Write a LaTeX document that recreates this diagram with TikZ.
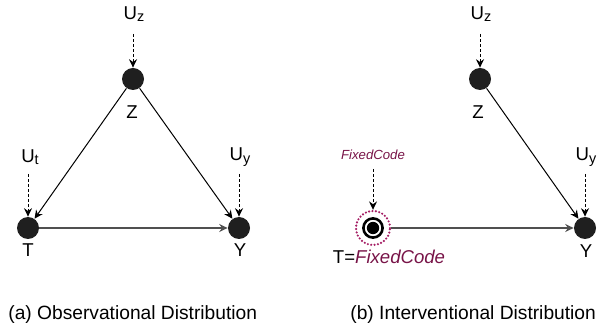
\documentclass[tikz,border=0pt]{standalone}
\usepackage{fontspec}
\setmainfont{Liberation Sans}
\usetikzlibrary{arrows.meta}
\definecolor{fc}{RGB}{120,20,72}
\definecolor{fcdot}{RGB}{165,30,100}
\definecolor{edgegray}{RGB}{80,80,80}
\newcommand\usub[1]{U{\fontsize{7.2}{8}\selectfont\raisebox{-1.3pt}{#1}}}
\begin{document}
\begin{tikzpicture}[x=0.5pt,y=-0.5pt,
  blackdot/.style={circle,fill=black!88,minimum size=11pt,inner sep=0pt},
  lbl/.style={font=\fontsize{9.3}{10}\selectfont,inner sep=0pt},
  captext/.style={font=\fontsize{9.6}{11}\selectfont,inner sep=0pt,anchor=west},
  arrtip/.style={-{Stealth[length=4.2pt,width=4pt,inset=1.4pt]}},
  dasharrow/.style={arrtip,dash pattern=on 1.5pt off 1pt,line width=0.5pt},
  solidedge/.style={arrtip,line width=0.5pt},
  grayedge/.style={arrtip,line width=0.9pt,draw=edgegray},
]
\useasboundingbox (0,0) rectangle (608,330);
% ---------- left panel ----------
\node[lbl] (uz1) at (134,14) {\usub{z}};
\node[blackdot] (z1) at (133,79) {};
\node[lbl] (zl1) at (132,112) {Z};
\node[lbl] (ut1) at (30,157) {\usub{t}};
\node[blackdot] (t1) at (28,228) {};
\node[lbl] (tl1) at (28,250) {T};
\node[lbl] (uy1) at (240,157) {\usub{y}};
\node[blackdot] (y1) at (239,228) {};
\node[lbl] (yl1) at (240,250) {Y};
\draw[dasharrow,shorten <=10pt] (z1 |- uz1.center) -- (z1);
\draw[dasharrow,shorten <=8.5pt] (t1 |- ut1.center) -- (t1);
\draw[dasharrow,shorten <=8.5pt] (y1 |- uy1.center) -- (y1);
\draw[solidedge] (z1) -- (t1);
\draw[solidedge] (z1) -- (y1);
\draw[grayedge] (t1) -- (y1);
% ---------- right panel ----------
\node[lbl] (uz2) at (481,14) {\usub{z}};
\node[blackdot] (z2) at (480,79) {};
\node[lbl] (zl2) at (478,112) {Z};
\node[font=\fontsize{6.6}{8}\selectfont\itshape,text=fc,inner sep=0pt] (fc) at (373,155) {FixedCode};
\node[circle,draw=fcdot,line width=1.2pt,line cap=round,dash pattern=on 0pt off 1.7pt,minimum size=17pt,inner sep=0pt] (t2) at (373,228) {};
\node[circle,draw=black,line width=1.3pt,fill=white,minimum size=9.6pt,inner sep=0pt] (t2r) at (t2) {};
\node[circle,fill=black,minimum size=6.2pt,inner sep=0pt] (t2c) at (t2) {};
\node[lbl] (tl2) at (389,257) {T=\textcolor{fc}{\itshape FixedCode}};
\node[lbl] (uy2) at (586,157) {\usub{y}};
\node[blackdot] (y2) at (585,228) {};
\node[lbl] (yl2) at (586,251) {Y};
\draw[dasharrow,shorten <=10pt] (z2 |- uz2.center) -- (z2);
\draw[dasharrow,shorten <=7pt] (t2 |- fc.center) -- (t2);
\draw[dasharrow,shorten <=8.5pt] (y2 |- uy2.center) -- (y2);
\draw[solidedge] (z2) -- (y2);
\draw[grayedge] (t2) -- (y2);
% ---------- captions ----------
\node[captext] (capa) at (8,315) {(a) Observational Distribution};
\node[captext] (capb) at (350,315) {(b) Interventional Distribution};
\end{tikzpicture}
\end{document}
